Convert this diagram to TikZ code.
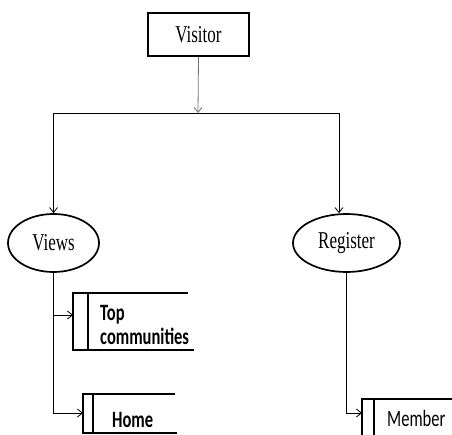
\documentclass[tikz,border=0pt]{standalone}
\usepackage{graphicx}
\usepackage{fontspec}
\setmainfont{Liberation Serif}
\newfontfamily\calfont{Carlito}
\usetikzlibrary{arrows.meta,shapes.geometric}
\newcommand\stretchtxt[1]{\scalebox{1}[1.42]{#1}}
\begin{document}
\begin{tikzpicture}[x=1pt,y=-1pt,
  procbox/.style={draw, line width=2pt, minimum width=101pt, minimum height=43pt, inner sep=0pt,
    font=\fontsize{17}{18}\selectfont},
  procell/.style={ellipse, draw, line width=1.7pt, minimum width=91pt, minimum height=58pt, inner sep=0pt,
    font=\fontsize{17}{18}\selectfont},
  conn/.style={line width=0.8pt},
  arr/.style={conn, -{Straight Barb[length=5pt,width=8pt,line width=0.8pt]}},
  store/.style={line width=1.7pt},
  storetxt/.style={anchor=base west, inner sep=0pt, font=\calfont\fontsize{16.5}{18}\selectfont}
]
\useasboundingbox (0,0) rectangle (452,435);

\node[procbox] (visitor) at (198.5,34.5) {\stretchtxt{Visitor}};
\node[procell] (views) at (53.5,243) {\stretchtxt{Views}};
\node[procell, minimum width=107pt] (register) at (346.5,243) {\stretchtxt{Register}};

\coordinate (split) at (198,113);
\coordinate (lc) at (53.5,113);
\coordinate (rc) at (339,113);
\draw[arr, draw=black!55] (visitor.south) -- (split);
\draw[conn] (lc) -- (rc);
\draw[arr] (lc) -- (views.north);
\draw[arr] (rc) -- (rc |- register.north);

% Top communities store
\coordinate (tcbox) at (73,315);
\draw[store] (188,293) -- (73,293) -- (73,350) -- (194,350);
\draw[store] (88,293) -- (88,350);
\node[storetxt] (tctop) at (100,320) {\stretchtxt{\bfseries Top}};
\node[storetxt] (tcbot) at (100,344) {\stretchtxt{\bfseries communities}};

% Home store
\coordinate (homebox) at (83,413);
\draw[store] (175,394) -- (83,394) -- (83,433) -- (177,433);
\draw[store] (93,394) -- (93,433);
\node[storetxt] (home) at (112,427) {\stretchtxt{\bfseries Home}};

% Member store
\coordinate (memberbox) at (362,413);
\draw[store] (452,399) -- (362,399) -- (362,436);
\draw[store] (374,399) -- (374,436);
\node[storetxt] (member) at (387,426) {\stretchtxt{Member}};

\draw[arr] (views.south) |- (tcbox);
\draw[arr] (views.south) |- (homebox);
\draw[arr] (register.south) |- (memberbox);
\end{tikzpicture}
\end{document}
